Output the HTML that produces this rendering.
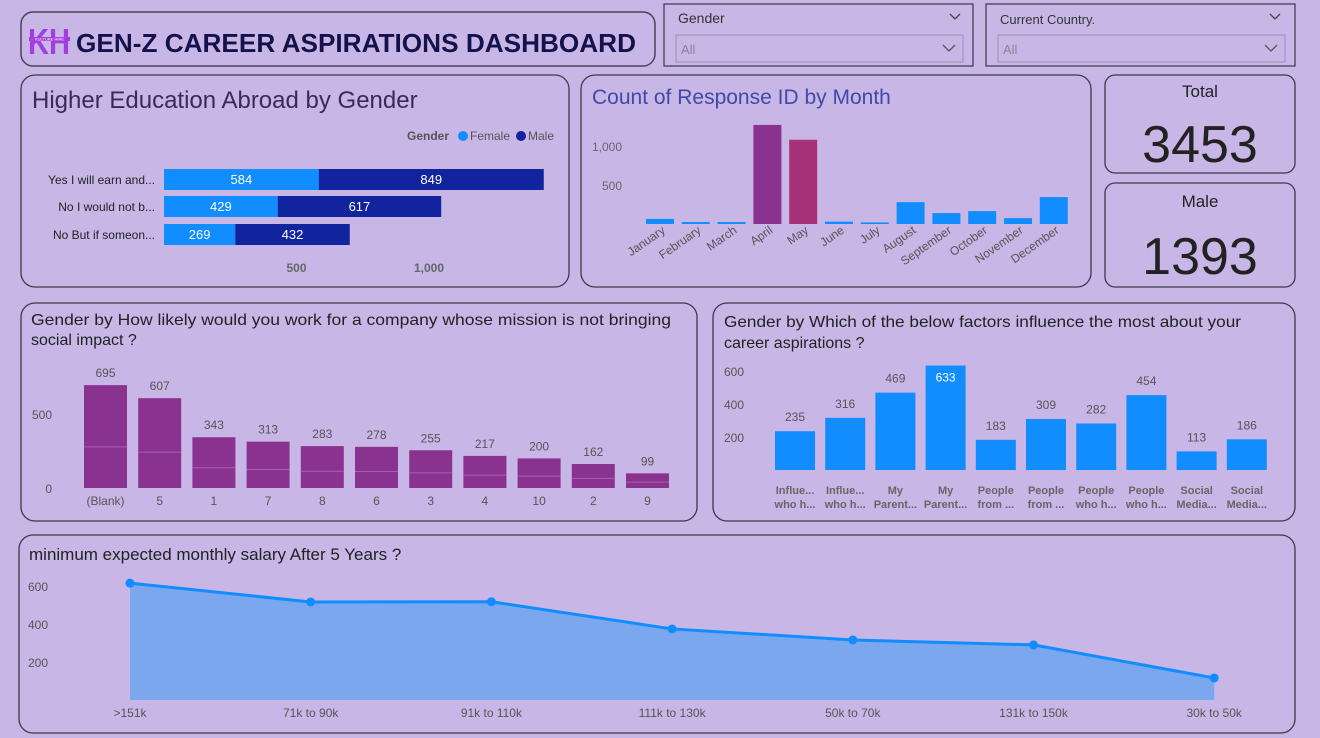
<!DOCTYPE html>
<html><head><meta charset="utf-8"><style>
html,body{margin:0;padding:0;background:#c8b6e6;}
svg{display:block;font-family:"Liberation Sans","DejaVu Sans",sans-serif;}
</style></head><body>
<svg id="dash" width="1320" height="738" viewBox="0 0 1320 738" xmlns="http://www.w3.org/2000/svg">
<rect x="0" y="0" width="1320" height="738" fill="#c8b6e6"/>
<g>
<rect x="21" y="12" width="634" height="54" rx="12" fill="#c8b6e6" stroke="#4a4458" stroke-width="1.5"/>
<g>
<text x="28" y="54" font-size="36" font-weight="bold" fill="#a43de0" textLength="42" lengthAdjust="spacingAndGlyphs">KH</text>
<rect x="29" y="37" width="41" height="4" fill="#a43de0"/>
<text x="49.5" y="40.5" font-size="4" fill="#fff" text-anchor="middle">KULTURE HIRE</text>
</g>
<text x="76" y="52" font-size="26" font-weight="bold" fill="#14124a" textLength="560" lengthAdjust="spacingAndGlyphs">GEN-Z CAREER ASPIRATIONS DASHBOARD</text>
</g>
<g>
<rect x="664" y="4" width="309" height="62" fill="#c8b6e6" stroke="#3a3648" stroke-width="1.2"/>
<text x="678" y="23" font-size="14" fill="#333">Gender</text>
<path d="M950 14 l5 5 l5 -5" fill="none" stroke="#444" stroke-width="1.3"/>
<rect x="676" y="35" width="287" height="27" fill="#c8b6e6" stroke="#9a90b0"/>
<text x="681" y="54" font-size="13" fill="#8a8496">All</text>
<path d="M943 45 l6 6 l6 -6" fill="none" stroke="#555" stroke-width="1.3"/>
</g>
<g>
<rect x="986" y="4" width="309" height="62" fill="#c8b6e6" stroke="#3a3648" stroke-width="1.2"/>
<text x="1000" y="24" font-size="13" fill="#333">Current Country.</text>
<path d="M1270 14 l5 5 l5 -5" fill="none" stroke="#444" stroke-width="1.3"/>
<rect x="998" y="35" width="287" height="27" fill="#c8b6e6" stroke="#9a90b0"/>
<text x="1003" y="54" font-size="13" fill="#8a8496">All</text>
<path d="M1265 45 l6 6 l6 -6" fill="none" stroke="#555" stroke-width="1.3"/>
</g>
<rect x="21" y="75" width="548" height="212" rx="14" fill="#c8b6e6" stroke="#3d3a4a" stroke-width="1.3"/>
<rect x="581" y="75" width="510" height="212" rx="14" fill="#c8b6e6" stroke="#3d3a4a" stroke-width="1.3"/>
<g>
<rect x="1105" y="75" width="190" height="98" rx="10" fill="#c8b6e6" stroke="#3d3a4a" stroke-width="1.3"/>
<text x="1200" y="97" font-size="17" text-anchor="middle" fill="#222">Total</text>
<text x="1200" y="162" font-size="52" text-anchor="middle" fill="#222">3453</text>
</g>
<g>
<rect x="1105" y="183" width="190" height="104" rx="10" fill="#c8b6e6" stroke="#3d3a4a" stroke-width="1.3"/>
<text x="1200" y="207" font-size="17" text-anchor="middle" fill="#222">Male</text>
<text x="1200" y="274" font-size="52" text-anchor="middle" fill="#222">1393</text>
</g>
<rect x="21" y="303" width="676" height="218" rx="14" fill="#c8b6e6" stroke="#3d3a4a" stroke-width="1.3"/>
<rect x="713" y="303" width="582" height="218" rx="14" fill="#c8b6e6" stroke="#3d3a4a" stroke-width="1.3"/>
<rect x="19" y="535" width="1276" height="198" rx="14" fill="#c8b6e6" stroke="#3d3a4a" stroke-width="1.3"/>
<text x="32" y="108" font-size="24" fill="#3a2a5a">Higher Education Abroad by Gender</text>
<text x="592" y="104" font-size="21" fill="#3f4aa8">Count of Response ID by Month</text>
<text x="31" y="325" font-size="16" fill="#222" textLength="640" lengthAdjust="spacingAndGlyphs">Gender by How likely would you work for a company whose mission is not bringing</text>
<text x="31" y="345" font-size="16" fill="#222">social impact ?</text>
<text x="724" y="327" font-size="16" fill="#222" textLength="517" lengthAdjust="spacingAndGlyphs">Gender by Which of the below factors influence the most about your</text>
<text x="724" y="348" font-size="16" fill="#222">career aspirations ?</text>
<text x="29" y="560" font-size="17" fill="#222">minimum expected monthly salary After 5 Years ?</text>
<g>
<text x="407" y="140" font-size="12" font-weight="bold" fill="#555">Gender</text>
<circle cx="463" cy="136" r="5" fill="#118dff"/>
<text x="470" y="140" font-size="12" fill="#555">Female</text>
<circle cx="521" cy="136" r="5" fill="#12239e"/>
<text x="528" y="140" font-size="12" fill="#555">Male</text>
</g>
<g id="charts"></g>
</svg>
<script>
const eduCats=["Yes I will earn and...","No I would not b...","No But if someon..."];
const eduFemale=[584,429,269];
const eduMale=[849,617,432];
const eduTicks=[500,1000];

const months=["January","February","March","April","May","June","July","August","September","October","November","December"];
const monthVals=[65,25,25,1270,1080,30,20,280,140,165,75,345];
const monthTicks=[500,1000];

const impactCats=["(Blank)","5","1","7","8","6","3","4","10","2","9"];
const impactVals=[695,607,343,313,283,278,255,217,200,162,99];
const impactTicks=[0,500];

const factorCats=[["Influe...","who h..."],["Influe...","who h..."],["My","Parent..."],["My","Parent..."],["People","from ..."],["People","from ..."],["People","who h..."],["People","who h..."],["Social","Media..."],["Social","Media..."]];
const factorVals=[235,316,469,633,183,309,282,454,113,186];
const factorTicks=[200,400,600];

const salaryCats=[">151k","71k to 90k","91k to 110k","111k to 130k","50k to 70k","131k to 150k","30k to 50k"];
const salaryVals=[615,516,517,374,316,290,116];
const salaryTicks=[200,400,600];

const NS="http://www.w3.org/2000/svg";
const root=document.getElementById('charts');
function mk(tag,attrs,parent,txt){const e=document.createElementNS(NS,tag);for(const k in attrs)e.setAttribute(k,attrs[k]);if(txt!==undefined)e.textContent=txt;(parent||root).appendChild(e);return e;}
const fmt=v=>v>=1000?v.toLocaleString('en-US'):String(v);

(function(){
const x=v=>164+v*0.265;const rowY=[169,196,224];const h=21;
eduTicks.forEach(t=>{const l=mk('text',{x:x(t),y:272,'font-size':12,'text-anchor':'middle',fill:'#666','font-weight':'bold'},root,fmt(t));

});
eduCats.forEach((c,i)=>{
const y=rowY[i];
const lb=mk('text',{x:155,y:y+15,'font-size':12,'text-anchor':'end',fill:'#222'},root,c);


const f=mk('rect',{x:x(0),y:y,width:x(eduFemale[i])-x(0),height:h,fill:'#118dff'});


const m=mk('rect',{x:x(eduFemale[i]),y:y,width:x(eduFemale[i]+eduMale[i])-x(eduFemale[i]),height:h,fill:'#12239e'});


mk('text',{x:(x(0)+x(eduFemale[i]))/2,y:y+15,'font-size':13,'text-anchor':'middle',fill:'#fff'},root,eduFemale[i]);
mk('text',{x:(x(eduFemale[i])+x(eduFemale[i]+eduMale[i]))/2,y:y+15,'font-size':13,'text-anchor':'middle',fill:'#fff'},root,eduMale[i]);
});
})();

(function(){
const base=224,k=0.078,x0=646,step=35.8,w=28;
const y=v=>base-v*k;
monthTicks.forEach(t=>{const l=mk('text',{x:622,y:y(t)+5,'font-size':12,'text-anchor':'end',fill:'#666'},root,fmt(t));

});
months.forEach((m,i)=>{
const bx=x0+i*step;
const col=i===3?'#8a3290':(i===4?'#a83278':'#118dff');
const r=mk('rect',{x:bx,y:y(monthVals[i]),width:w,height:Math.max(1,monthVals[i]*k),fill:col});


const cx=bx+w/2+6;
const t=mk('text',{x:cx,y:232,'font-size':12,'text-anchor':'end',fill:'#555',transform:`rotate(-35 ${cx} 232)`},root,m);


});
})();

(function(){
const base=488,k=0.148,x0=84,step=54.2,w=43;
const y=v=>base-v*k;
impactTicks.forEach(t=>{const l=mk('text',{x:52,y:y(t)+5,'font-size':12,'text-anchor':'end',fill:'#555'},root,t);

});
impactCats.forEach((c,i)=>{
const bx=x0+i*step;
const r=mk('rect',{x:bx,y:y(impactVals[i]),width:w,height:impactVals[i]*k,fill:'#8a3290'});


mk('line',{x1:bx,x2:bx+w,y1:y(impactVals[i]*0.4),y2:y(impactVals[i]*0.4),stroke:'#a760a8','stroke-width':1});
mk('text',{x:bx+w/2,y:y(impactVals[i])-8,'font-size':12,'text-anchor':'middle',fill:'#555'},root,impactVals[i]);
const l=mk('text',{x:bx+w/2,y:505,'font-size':12,'text-anchor':'middle',fill:'#555'},root,c);


});
})();

(function(){
const base=470,k=0.165,x0=775,step=50.2,w=40;
const y=v=>base-v*k;
factorTicks.forEach(t=>{const l=mk('text',{x:724,y:y(t)+5,'font-size':12,fill:'#555'},root,t);

});
factorVals.forEach((v,i)=>{
const bx=x0+i*step;
const r=mk('rect',{x:bx,y:y(v),width:w,height:v*k,fill:'#118dff'});


const top=v===Math.max(...factorVals);
mk('text',{x:bx+w/2,y:top?y(v)+16:y(v)-10,'font-size':12,'text-anchor':'middle',fill:top?'#fff':'#555'},root,v);
const l1=mk('text',{x:bx+w/2,y:494,'font-size':11,'font-weight':'bold','text-anchor':'middle',fill:'#666'},root,factorCats[i][0]);


mk('text',{x:bx+w/2,y:508,'font-size':11,'font-weight':'bold','text-anchor':'middle',fill:'#666'},root,factorCats[i][1]);
});
})();

(function(){
const base=700,k=0.19,x0=130,step=180.7;
const y=v=>base-v*k;const x=i=>x0+i*step;
salaryTicks.forEach(t=>{const l=mk('text',{x:48,y:y(t)+5,'font-size':12,'text-anchor':'end',fill:'#555'},root,t);

});
let pts=salaryVals.map((v,i)=>x(i)+','+y(v)).join(' ');
const area=mk('polygon',{points:x(0)+','+base+' '+pts+' '+x(salaryVals.length-1)+','+base,fill:'#7ba7ef'});


const line=mk('polyline',{points:pts,fill:'none',stroke:'#118dff','stroke-width':3});


salaryVals.forEach((v,i)=>{
const c=mk('circle',{cx:x(i),cy:y(v),r:4.5,fill:'#118dff'});


const l=mk('text',{x:x(i),y:717,'font-size':12,'text-anchor':'middle',fill:'#555'},root,salaryCats[i]);


});
})();
</script>
</body></html>
